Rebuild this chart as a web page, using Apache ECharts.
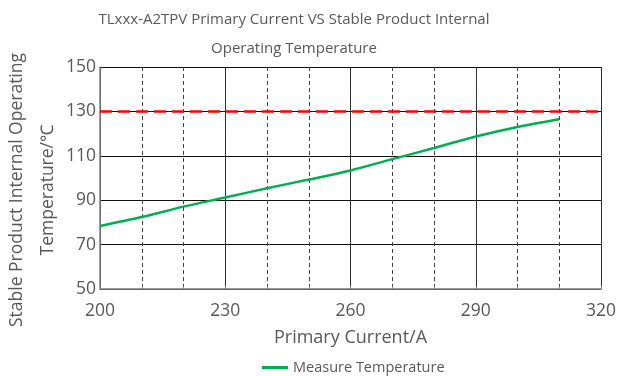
<!DOCTYPE html>
<html>
<head>
<meta charset="utf-8">
<script src="https://cdn.jsdelivr.net/npm/echarts@6/dist/echarts.min.js"></script>
<style>
    html, body { margin: 0; padding: 0; background: #fff; }
    #chart { width: 619px; height: 376px; }
</style>
</head>
<body>
<div id="chart"></div>
<script>
// ====================== data ======================
var currents = [200, 210, 220, 230, 240, 250, 260, 270, 280, 290, 300, 310];
var temps = [78.4, 82.4, 87.1, 91.2, 95.4, 99.3, 103.4, 108.5, 113.5, 118.7, 123.0, 126.5];
var limitTemp = 130;

var titleText = 'TLxxx-A2TPV Primary Current VS Stable Product Internal\nOperating Temperature';
var xName = 'Primary Current/A';
var yName = 'Stable Product Internal Operating\nTemperature/\u2103';
var seriesName = 'Measure Temperature';

var points = [];
for (var i = 0; i < currents.length; i++) {
    points.push([currents[i], temps[i]]);
}

var fontName = '"Open Sans", "Noto Sans", sans-serif';
var txtColor = '#595959';

var option = {
    backgroundColor: '#fff',
    textStyle: { fontFamily: fontName, color: txtColor },
    title: {
        text: titleText,
        left: 289,
        top: 0,
        textAlign: 'center',
        textStyle: {
            fontFamily: fontName,
            fontSize: 15,
            fontWeight: 'normal',
            color: txtColor,
            lineHeight: 29
        }
    },
    legend: {
        data: [seriesName],
        left: 257,
        top: 355,
        icon: 'rect',
        itemWidth: 26,
        itemHeight: 3,
        itemGap: 5,
        textStyle: { fontFamily: fontName, fontSize: 14.5, color: txtColor }
    },
    grid: { left: 100, right: 18, top: 67, bottom: 87, containLabel: false, outerBoundsMode: 'none' },
    xAxis: [{
        // minor grid (dashed, every 10)
        type: 'value',
        min: 200,
        max: 320,
        interval: 10,
        axisLine: { show: true, lineStyle: { color: '#808080', width: 1.5 } },
        axisTick: { show: true, inside: true, length: 3, lineStyle: { color: '#808080' } },
        axisLabel: { show: false },
        splitLine: { show: true, lineStyle: { color: '#444', type: [4, 3], width: 1 } }
    }, {
        // major grid + labels (every 30)
        type: 'value',
        position: 'bottom',
        min: 200,
        max: 320,
        interval: 30,
        name: xName,
        nameLocation: 'middle',
        nameGap: 40,
        nameMoveOverlap: false,
        nameTextStyle: { fontFamily: fontName, fontSize: 18, color: txtColor },
        axisLine: { show: false },
        axisTick: { show: false },
        axisLabel: { fontFamily: fontName, fontSize: 17.5, color: txtColor, margin: 13 },
        splitLine: { show: true, lineStyle: { color: '#333', width: 1 } }
    }],
    yAxis: {
        type: 'value',
        min: 50,
        max: 150,
        interval: 20,
        name: yName,
        nameLocation: 'middle',
        nameRotate: 90,
        nameGap: 36,
        nameMoveOverlap: false,
        nameTextStyle: {
            fontFamily: fontName,
            fontSize: 17.5,
            color: txtColor,
            lineHeight: 31,
            padding: [0, 24, 0, 0]
        },
        axisLine: { show: true, lineStyle: { color: '#808080', width: 1.5 } },
        axisTick: { show: false },
        axisLabel: { fontFamily: fontName, fontSize: 17.5, color: txtColor, margin: 4 },
        splitLine: { show: true, lineStyle: { color: '#111', width: 1 } }
    },
    series: [{
        name: seriesName,
        type: 'line',
        xAxisIndex: 0,
        data: points,
        smooth: 0.3,
        showSymbol: false,
        lineStyle: { color: '#00b050', width: 2.5 },
        itemStyle: { color: '#00b050' },
        markLine: {
            silent: true,
            symbol: 'none',
            label: { show: false },
            lineStyle: { color: '#ff0000', type: [12, 6], width: 2.5 },
            data: [{ yAxis: limitTemp }]
        }
    }],
    animation: false
};

echarts.init(document.getElementById('chart')).setOption(option);
</script>
</body>
</html>
